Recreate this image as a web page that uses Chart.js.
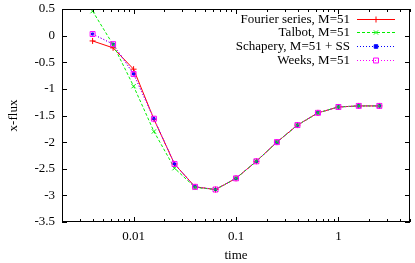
<!DOCTYPE html>
<html>
<head>
<meta charset="utf-8">
<script src="https://cdn.jsdelivr.net/npm/chart.js@4/dist/chart.umd.min.js"></script>
<style>html,body{margin:0;padding:0;background:#fff}</style>
</head>
<body>
<div style="width:415px;height:263px"><canvas id="myChart"></canvas></div>
<script>
var times    = [0.00398, 0.00631, 0.01, 0.0158, 0.0251, 0.0398, 0.0631, 0.1, 0.158, 0.251, 0.398, 0.631, 1, 1.58, 2.51];
var fourier  = [-0.10, -0.23, -0.63, -1.57, -2.41, -2.84, -2.89, -2.68, -2.36, -2.00, -1.68, -1.45, -1.34, -1.32, -1.32];
var talbot   = [0.46, -0.17, -0.95, -1.80, -2.49, -2.85, -2.89, -2.68, -2.36, -2.00, -1.68, -1.45, -1.34, -1.32, -1.32];
var schapery = [0.03, -0.16, -0.72, -1.56, -2.41, -2.84, -2.89, -2.68, -2.36, -2.00, -1.68, -1.45, -1.34, -1.32, -1.32];
var weeks    = [0.03, -0.16, -0.72, -1.56, -2.41, -2.84, -2.89, -2.68, -2.36, -2.00, -1.68, -1.45, -1.34, -1.32, -1.32];
var xLabels  = [0.01, 0.1, 1];

var FONT = '"Liberation Serif", "DejaVu Serif", serif';

function pts(ys) {
    var out = [];
    for (var i = 0; i < times.length; i++) out.push({x: times[i], y: ys[i]});
    return out;
}

// gnuplot style frame, inward ticks on all four sides, legend at top right
var framePlugin = {
    id: 'frame',
    afterDraw: function(chart) {
        var c = chart.ctx, a = chart.chartArea;
        var xs = chart.scales.x, ys = chart.scales.y;
        c.save();
        c.strokeStyle = '#000';
        c.lineWidth = 1;
        c.strokeRect(a.left + 0.5, a.top + 0.5, a.right - a.left - 1, a.bottom - a.top - 1);
        c.beginPath();
        ys.ticks.forEach(function(t) {
            var y = Math.round(ys.getPixelForValue(t.value)) + 0.5;
            c.moveTo(a.left, y); c.lineTo(a.left + 5, y);
            c.moveTo(a.right, y); c.lineTo(a.right - 5, y);
        });
        for (var e = -3; e <= 1; e++) {
            for (var m = 1; m <= 9; m++) {
                var v = m * Math.pow(10, e);
                if (v < xs.min || v > xs.max) continue;
                var x = Math.round(xs.getPixelForValue(v)) + 0.5;
                var len = (m === 1) ? 5 : 3;
                c.moveTo(x, a.bottom); c.lineTo(x, a.bottom - len);
                c.moveTo(x, a.top); c.lineTo(x, a.top + len);
            }
        }
        c.stroke();

        c.font = '13px ' + FONT;
        c.textAlign = 'right';
        c.textBaseline = 'middle';
        chart.data.datasets.forEach(function(ds, i) {
            var y = Math.round(18.5 + i * 13.8) + 0.5;
            c.fillStyle = '#000';
            c.fillText(ds.label, 350, y);
            c.save();
            c.strokeStyle = ds.borderColor;
            c.fillStyle = ds.backgroundColor;
            c.lineWidth = 1;
            c.setLineDash(ds.borderDash || []);
            c.beginPath();
            c.moveTo(357, y);
            c.lineTo(395, y);
            c.stroke();
            c.setLineDash([]);
            Chart.helpers.drawPoint(c, {
                pointStyle: ds.pointStyle,
                radius: ds.legendRadius || ds.pointRadius,
                borderWidth: 1,
                rotation: 0
            }, 376, y);
            c.restore();
        });
        c.restore();
    }
};

var ctx = document.getElementById('myChart').getContext('2d');
var chart = new Chart(ctx, {
    type: 'scatter',
    data: {
        datasets: [{
            label: 'Fourier series, M=51',
            data: pts(fourier),
            borderColor: '#ff0000',
            backgroundColor: '#ff0000',
            borderWidth: 1,
            showLine: true,
            pointStyle: 'cross',
            pointRadius: 3,
            order: 3
        }, {
            label: 'Talbot, M=51',
            data: pts(talbot),
            borderColor: '#00ee00',
            backgroundColor: '#00ee00',
            borderWidth: 1,
            borderDash: [3, 2],
            showLine: true,
            pointStyle: 'crossRot',
            pointRadius: 3,
            order: 1
        }, {
            label: 'Schapery, M=51 + SS',
            data: pts(schapery),
            borderColor: '#0000ff',
            backgroundColor: '#0000ff',
            borderWidth: 1,
            borderDash: [1, 2],
            showLine: true,
            pointStyle: 'rect',
            pointRadius: 1.5,
            legendRadius: 2.5,
            order: 2
        }, {
            label: 'Weeks, M=51',
            data: pts(weeks),
            borderColor: '#ff00ff',
            backgroundColor: 'rgba(0,0,0,0)',
            borderWidth: 1,
            borderDash: [1, 2],
            showLine: true,
            pointStyle: 'rect',
            pointRadius: 3.5,
            order: 0
        }]
    },
    options: {
        responsive: true,
        maintainAspectRatio: false,
        animation: false,
        layout: {padding: {top: 9, right: 5, left: 0, bottom: 0}},
        plugins: {
            legend: {display: false},
            tooltip: {enabled: false}
        },
        scales: {
            x: {
                type: 'logarithmic',
                min: 0.002,
                max: 5,
                grid: {display: false, drawTicks: false},
                border: {display: false},
                afterFit: function(s) {
                    s.height = 41;
                    s.paddingLeft = 0; s.paddingRight = 0;
                },
                ticks: {
                    autoSkip: false,
                    maxRotation: 0,
                    padding: 7,
                    color: '#000',
                    font: {family: FONT, size: 13},
                    callback: function(v) {
                        for (var i = 0; i < xLabels.length; i++) {
                            if (Math.abs(v - xLabels[i]) < xLabels[i] * 1e-6) return String(xLabels[i]);
                        }
                        return '';
                    }
                },
                title: {
                    display: true,
                    text: 'time',
                    color: '#000',
                    font: {family: FONT, size: 13},
                    padding: {top: 0, bottom: 0}
                }
            },
            y: {
                min: -3.5,
                max: 0.5,
                grid: {display: false, drawTicks: false},
                border: {display: false},
                afterFit: function(s) {
                    s.width = 62;
                    s.paddingTop = 0; s.paddingBottom = 0;
                },
                ticks: {
                    stepSize: 0.5,
                    padding: 7,
                    color: '#000',
                    font: {family: FONT, size: 13},
                    callback: function(v) { return String(Math.round(v * 10) / 10); }
                },
                title: {
                    display: true,
                    text: 'x-flux',
                    color: '#000',
                    font: {family: FONT, size: 13},
                    padding: {top: 6, bottom: 0}
                }
            }
        }
    },
    plugins: [framePlugin]
});
</script>
</body>
</html>
